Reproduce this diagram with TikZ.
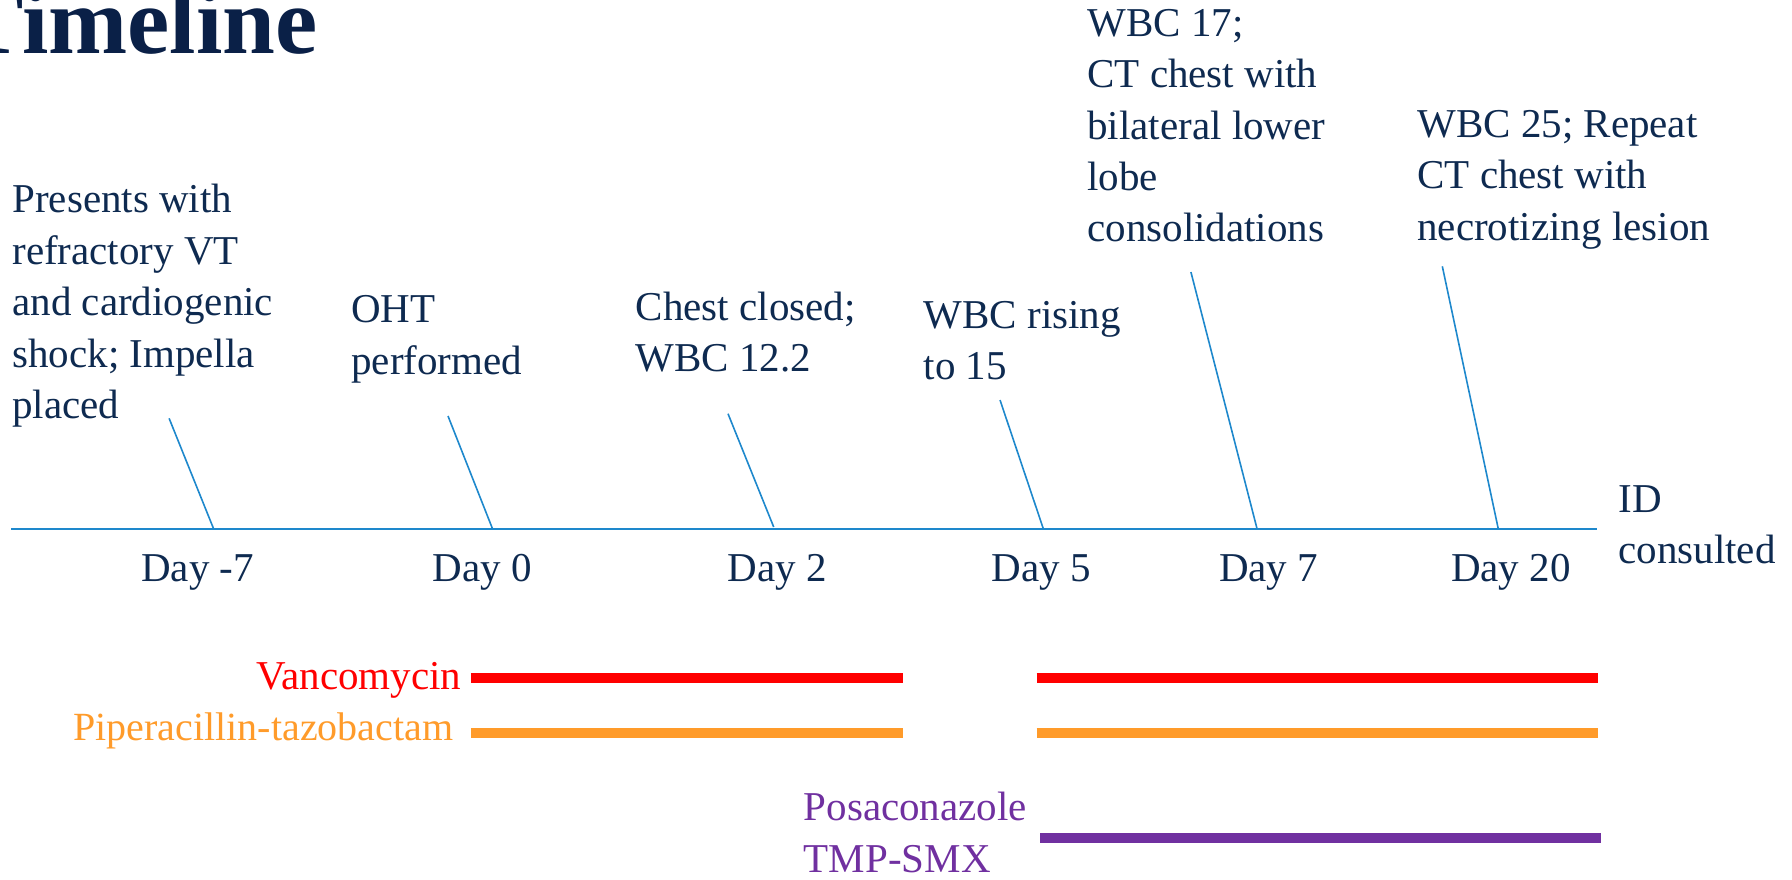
\documentclass[tikz,border=0pt]{standalone}
\usepackage{fontspec}
\setmainfont{Liberation Serif}
\definecolor{navy}{HTML}{0E2A50}
\definecolor{titlenavy}{HTML}{0A2047}
\definecolor{axisblue}{HTML}{1E88CC}
\definecolor{vancored}{HTML}{FF0000}
\definecolor{piporange}{HTML}{FF9B2A}
\definecolor{posapurple}{HTML}{7030A0}
\tikzset{
  lbl/.style={inner sep=0pt, text=navy, align=left, font=\fontsize{20.5}{25.7}\selectfont},
  daylbl/.style={inner sep=0pt, text=navy, anchor=base, font=\fontsize{20.5}{25.7}\selectfont},
  titlelbl/.style={inner sep=0pt, text=titlenavy, font=\fontsize{47.5}{52}\selectfont\bfseries},
  axisline/.style={draw=axisblue, line width=1.3pt},
  tickline/.style={draw=axisblue, line width=0.8pt},
  drugbar/.style={line width=5pt, line cap=butt},
}
\begin{document}
\begin{tikzpicture}[x=0.5pt,y=-0.5pt]
\useasboundingbox (0,0) rectangle (1792,879);
% title
\node[titlelbl, anchor=base east] (title) at (318,53) {Timeline};
% axis
\coordinate (axL) at (11.4,529);
\coordinate (axR) at (1597,529);
\draw[axisline] (axL) -- (axR);
% ticks
\coordinate (t1) at (169.1,418.3); \coordinate (b1) at (213.7,529);
\coordinate (t2) at (448,416);     \coordinate (b2) at (492.6,529);
\coordinate (t3) at (728,413.7);   \coordinate (b3) at (773.7,527);
\coordinate (t4) at (1000,400);    \coordinate (b4) at (1043.4,529);
\coordinate (t5) at (1190.9,272);  \coordinate (b5) at (1257.1,529);
\coordinate (t6) at (1442.3,266.3);\coordinate (b6) at (1498.3,529);
\foreach \i in {1,...,6} {\draw[tickline] (t\i) -- (b\i);}
% event labels
\node[lbl, anchor=north west] (ev1) at (12,176.6) {\strut Presents with\\refractory VT\\and cardiogenic\\shock; Impella\\placed};
\node[lbl, anchor=north west] (ev2) at (350.9,286.3) {\strut OHT\\performed};
\node[lbl, anchor=north west] (ev3) at (635.4,284) {\strut Chest closed;\\WBC 12.2};
\node[lbl, anchor=north west] (ev4) at (923.4,292) {\strut WBC rising\\to 15};
\node[lbl, anchor=north west] (ev5) at (1087,0) {\strut WBC 17;\\CT chest with\\bilateral lower\\lobe\\consolidations};
\node[lbl, anchor=north west] (ev6) at (1417,101) {\strut WBC 25; Repeat\\CT chest with\\necrotizing lesion};
\node[lbl, anchor=north west] (ev7) at (1618,476) {\strut ID\\consulted};
% day labels
\node[daylbl] (d1) at (197.7,581.7) {Day -7};
\node[daylbl] (d2) at (482.3,581.7) {Day 0};
\node[daylbl] (d3) at (777.1,581.7) {Day 2};
\node[daylbl] (d4) at (1041.1,581.7) {Day 5};
\node[daylbl] (d5) at (1268.6,581.7) {Day 7};
\node[daylbl] (d6) at (1510.9,581.7) {Day 20};
% drug labels
\node[lbl, text=vancored, anchor=base east] (vanco) at (461.7,689) {Vancomycin};
\node[lbl, text=piporange, anchor=base east, font=\fontsize{20}{25.7}\selectfont] (pip) at (453.7,740.6) {Piperacillin-tazobactam};
\node[lbl, text=posapurple, anchor=north west] (posa) at (803.4,784.6) {\strut Posaconazole\\TMP-SMX};
% drug bars
\coordinate (v1a) at (470.9,678.3); \coordinate (v1b) at (902.7,678.3);
\coordinate (v2a) at (1036.7,678.3); \coordinate (v2b) at (1597.7,678.3);
\coordinate (p1a) at (470.9,732.7); \coordinate (p1b) at (902.7,732.7);
\coordinate (p2a) at (1036.7,732.7); \coordinate (p2b) at (1597.7,732.7);
\coordinate (q1a) at (1040,838); \coordinate (q1b) at (1601.1,838);
\draw[drugbar, draw=vancored] (v1a) -- (v1b);
\draw[drugbar, draw=vancored] (v2a) -- (v2b);
\draw[drugbar, draw=piporange] (p1a) -- (p1b);
\draw[drugbar, draw=piporange] (p2a) -- (p2b);
\draw[drugbar, draw=posapurple] (q1a) -- (q1b);
\end{tikzpicture}
\end{document}
